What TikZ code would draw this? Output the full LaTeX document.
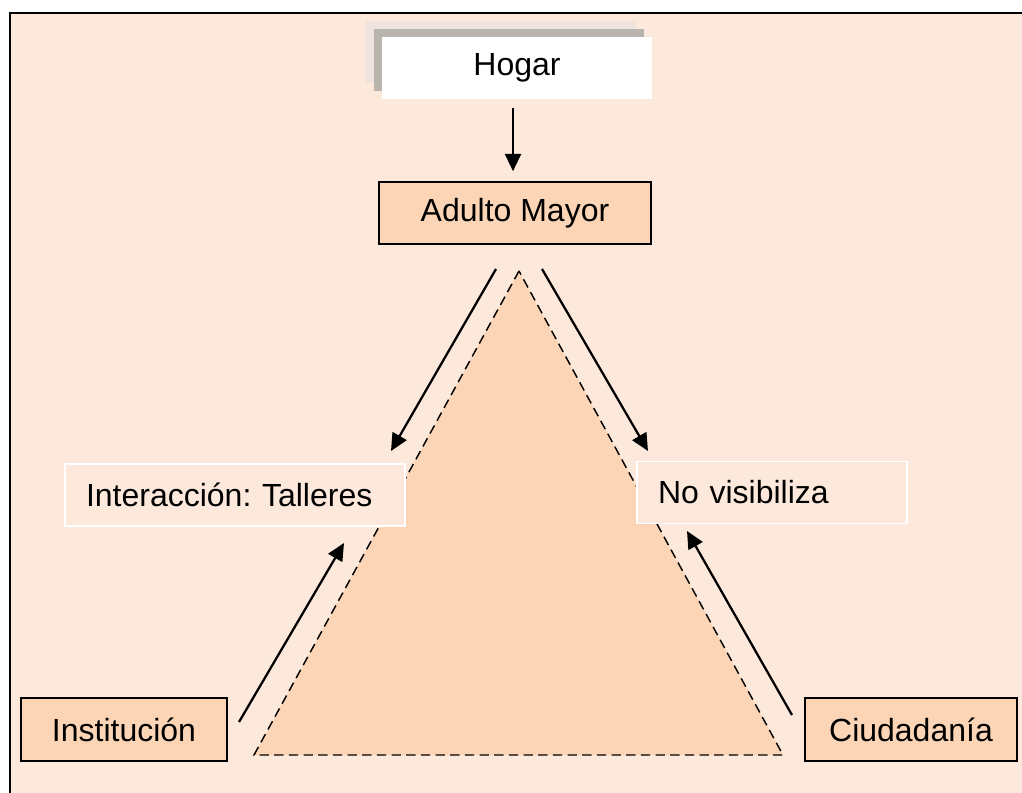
\documentclass[tikz,border=0pt]{standalone}
\usepackage{fontspec}
\setmainfont{Liberation Sans}
\usetikzlibrary{arrows.meta,shadows}
\definecolor{peachbg}{RGB}{252,233,219}
\definecolor{peach}{RGB}{251,213,181}
\definecolor{shadedark}{RGB}{186,180,175}
\definecolor{shadelight}{RGB}{238,227,221}
\frenchspacing
\tikzset{
    peach-box/.style = {draw=black, fill=peach, line width=1.2pt, rectangle, minimum height=46.5pt, inner sep=0pt},
    label-box/.style = {draw=white, fill=peachbg, line width=1.2pt, rectangle, minimum height=46.5pt, inner xsep=15.75pt, inner ysep=0pt, align=left},
    home-box/.style = {fill=white, rectangle, minimum width=202.5pt, minimum height=46.5pt,
        general shadow={fill=shadelight, shadow xshift=-12pt, shadow yshift=12pt},
        general shadow={fill=shadedark, shadow xshift=-6pt, shadow yshift=6pt}},
    link/.style = {-{Triangle[length=13pt,width=12pt]}, line width=1.7pt},
    edge-dash/.style = {draw=black, fill=peach, line width=1.1pt, dash pattern=on 7pt off 4pt},
}

\begin{document}
\begin{tikzpicture}[x=0.75pt, y=-0.75pt, font=\fontsize{24pt}{28pt}\selectfont]
\useasboundingbox (0,0) rectangle (1022,793);
\fill[peachbg] (10,13) rectangle (1022,793);
\draw[line width=1.6pt] (10,793) -- (10,13) -- (1022,13);

% triangle
\coordinate (apex) at (519,271);
\coordinate (base-l) at (254,755);
\coordinate (base-r) at (783,755);
\filldraw[edge-dash] (apex) -- (base-l) -- (base-r) -- cycle;

\node[home-box] (hogar) at (517,68) {Hogar};
\node[peach-box, minimum width=204pt] (adulto) at (515,213) {Adulto Mayor};
\node[label-box, text width=223.5pt] (interaccion) at (235,495) {Interacción: Talleres};
\node[label-box, text width=171pt] (novis) at (772,492.5) {No visibiliza};
\node[peach-box, minimum width=154.5pt, minimum height=47.25pt] (inst) at (124,729.5) {Institución};
\node[peach-box, minimum width=159pt, minimum height=47.25pt] (ciud) at (911,729.5) {Ciudadanía};

\coordinate (tl-top) at (496,269);
\coordinate (tl-tip) at (391,451);
\coordinate (tr-top) at (542,269);
\coordinate (tr-tip) at (648,451);
\coordinate (bl-foot) at (239,722);
\coordinate (bl-tip) at (344,543);
\coordinate (br-foot) at (792,715);
\coordinate (br-tip) at (687,531);

\draw[link] ([xshift=-3pt,yshift=-6.75pt]hogar.south) -- ([xshift=-1.5pt,yshift=7.5pt]adulto.north);
\draw[link] (tl-top) -- (tl-tip);
\draw[link] (tr-top) -- (tr-tip);
\draw[link] (bl-foot) -- (bl-tip);
\draw[link] (br-foot) -- (br-tip);
\end{tikzpicture}
\end{document}
